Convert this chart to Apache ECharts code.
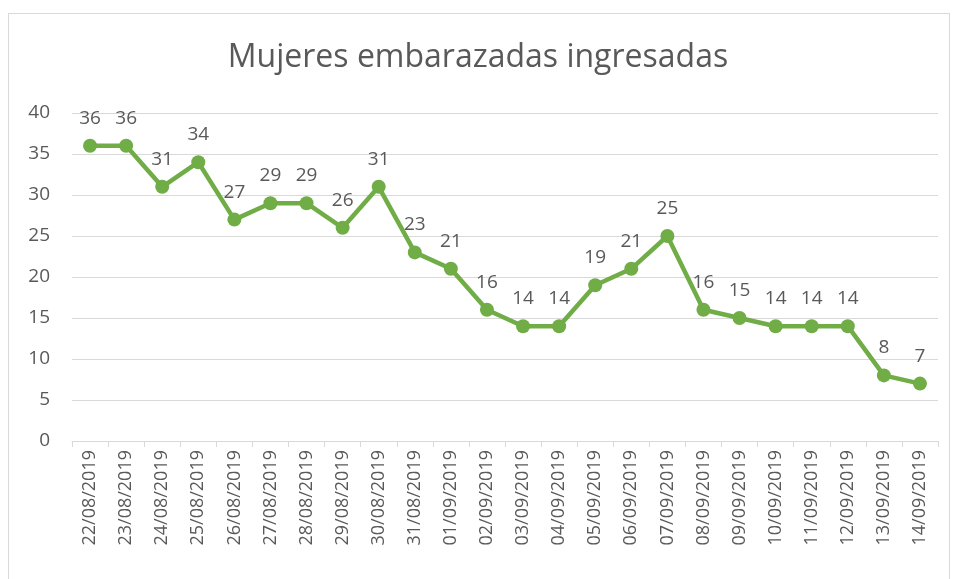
<!DOCTYPE html>
<html>
<head>
<meta charset="utf-8">
<title>Mujeres embarazadas ingresadas</title>
<script src="https://cdn.jsdelivr.net/npm/echarts@6/dist/echarts.min.js"></script>
<style>
    body, html { margin: 0; padding: 0; background: #fff; }
    #frame {
        position: absolute; left: 8px; top: 13px;
        width: 942px; height: 580px;
        border: 1px solid #d9d9d9; box-sizing: border-box;
    }
    #chart { position: absolute; left: 0; top: 0; width: 956px; height: 579px; }
</style>
</head>
<body>
<div id="frame"></div>
<div id="chart"></div>
<script>
var fechas = ['22/08/2019','23/08/2019','24/08/2019','25/08/2019','26/08/2019','27/08/2019',
    '28/08/2019','29/08/2019','30/08/2019','31/08/2019','01/09/2019','02/09/2019',
    '03/09/2019','04/09/2019','05/09/2019','06/09/2019','07/09/2019','08/09/2019',
    '09/09/2019','10/09/2019','11/09/2019','12/09/2019','13/09/2019','14/09/2019'];
var ingresadas = [36,36,31,34,27,29,29,26,31,23,21,16,14,14,19,21,25,16,15,14,14,14,8,7];

var chart = echarts.init(document.getElementById('chart'));
var txt = '#595959';
chart.setOption({
    animation: false,
    title: {
        text: 'Mujeres embarazadas ingresadas',
        left: 'center', top: 37,
        textStyle: { color: txt, fontSize: 32, fontWeight: 'normal', fontFamily: 'Open Sans' }
    },
    grid: { left: 72, right: 18, top: 113, bottom: 138 },
    xAxis: {
        type: 'category',
        data: fechas,
        boundaryGap: true,
        axisLine: { lineStyle: { color: '#d9d9d9', width: 1 } },
        axisTick: { show: true, length: 6, lineStyle: { color: '#d9d9d9' } },
        axisLabel: { rotate: 90, color: txt, fontSize: 18, fontFamily: 'Open Sans', margin: 9, interval: 0 }
    },
    yAxis: {
        type: 'value',
        min: 0, max: 40, interval: 5,
        axisLine: { show: false },
        axisTick: { show: false },
        splitLine: { lineStyle: { color: '#d9d9d9', width: 1 } },
        axisLabel: { color: txt, fontSize: 19, fontFamily: 'Open Sans', margin: 22 }
    },
    series: [{
        type: 'line',
        data: ingresadas,
        symbol: 'circle',
        symbolSize: 14,
        lineStyle: { color: '#70ad47', width: 4.5 },
        itemStyle: { color: '#70ad47' },
        label: { show: true, position: 'top', distance: 11, color: txt, fontSize: 19, fontFamily: 'Open Sans' }
    }]
});
</script>
</body>
</html>
